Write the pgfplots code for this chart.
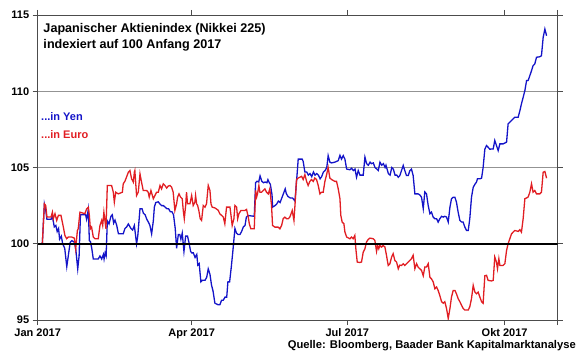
\documentclass[border=0pt]{standalone}
\usepackage{fontspec}
\setmainfont{Liberation Sans}
\usepackage{pgfplots}
\pgfplotsset{compat=1.18}
\definecolor{yenblue}{RGB}{20,20,200}
\definecolor{eurred}{RGB}{225,30,35}
\begin{document}
\begin{tikzpicture}
\useasboundingbox (-37.7pt,-38pt) rectangle (542.3pt,320pt);
\begin{axis}[at={(0pt,0pt)},anchor=south west, scale only axis, width=520pt, height=305pt,
 xmin=0,xmax=304,ymin=95,ymax=115,
 xtick={0,90,181,273,304}, xticklabels={Jan 2017,Apr 2017,Jul 2017,Okt 2017,{}},
 ytick={95,100,105,110,115},
 tick align=outside, major tick length=5pt,
 ymajorgrids, grid style={gray!85, line width=0.8pt},
 axis line style={gray!60!black, line width=0.8pt},
 tick style={gray!60!black, line width=0.8pt},
 ticklabel style={font=\fontsize{11}{13}\selectfont\bfseries},
 /pgf/number format/assume math mode=true,
 ]
\addplot[yenblue, line width=1.3pt] coordinates {(1,100) (2.7,100) (3.9,102.6) (4.7,102.2) (5.4,101.6) (7.8,101.6) (8.6,101.8) (9.7,101.1) (10.6,101.2) (11.4,100.8) (12.2,101.0) (12.8,100.3) (13.8,100.5) (14.6,100.0) (15.8,99.7) (17,98.5) (18,99.3) (19,100.1) (20,100.2) (21.5,100.1) (22.3,99.6) (23.4,98.35) (24.2,99.2) (25,101.9) (28,101.9) (28.6,101.6) (29.6,102.25) (30.2,100.2) (30.8,100.15) (31.6,99.7) (32.5,99.0) (35.4,99.0) (36.4,99.2) (37.4,99.0) (38.4,99.3) (38.8,99.0) (39.4,99.4) (40,99.2) (40.7,101.5) (41.7,101.3) (42.8,101.8) (43.6,101.9) (44.4,101.35) (45.2,101.55) (46.2,101.2) (47.2,100.65) (50,100.65) (51,101.0) (52,101.1) (53,101.3) (54.5,101.0) (55.5,100.9) (56.5,101.2) (57.8,100.0) (58.5,100.5) (59.8,102.3) (61,102.3) (61.8,102.0) (62.8,101.9) (63.8,101.6) (64.8,101.4) (65.6,101.2) (66.6,100.65) (67.6,101.5) (68.2,102.4) (69,102.7) (70.5,102.75) (71.5,102.6) (72.5,102.5) (73.5,102.5) (74.5,102.4) (75.5,102.3) (76.5,102.3) (77.5,102.1) (78.5,102.1) (79.4,101.9) (80.4,101.0) (81.2,99.7) (82.2,100.6) (83.1,100.6) (83.7,100.3) (84.5,100.7) (85.5,99.5) (86.5,100.5) (87.6,100.5) (88.4,100.1) (89.4,99.5) (90,99.4) (91,99.4) (92,99.1) (93,99.3) (93.6,98.6) (94.4,98.7) (95.4,97.5) (96.2,97.6) (97.8,97.6) (98.8,97.8) (99.7,98.35) (100.7,98.0) (101.6,97.3) (102.5,96.9) (103.6,96.1) (105.5,96.0) (106.5,96.0) (107.5,96.3) (108.5,96.3) (109.5,96.5) (110.5,96.5) (111.2,97.5) (112.2,97.5) (113.2,98.5) (114,99.4) (115.3,101.0) (116.2,100.7) (117.2,100.6) (118.2,100.6) (119.2,100.8) (120.2,101.1) (121.2,101.2) (122,101.75) (123,101.85) (126.6,101.8) (127.4,104.0) (128.2,104.1) (129.2,104.05) (130,104.45) (131,104.1) (132,104.0) (133,104.05) (134,104.0) (134.6,104.2) (135.4,104.0) (136,103.9) (137,103.2) (137.3,102.4) (138.7,102.5) (139.7,102.6) (140.7,102.8) (141.7,102.7) (142.7,103.0) (143.7,103.3) (144.7,103.6) (145.3,103.3) (146.3,103.1) (147.7,103.0) (149,103.0) (150.4,102.8) (151.4,104.2) (152.3,105.55) (154.6,105.55) (155.2,105.4) (156.2,104.7) (157.3,104.7) (158.2,104.5) (159.2,104.6) (160.2,104.4) (161.2,104.7) (162.1,104.5) (163.1,104.6) (164.1,104.5) (165.1,104.26) (166,104.4) (167,104.7) (168,104.8) (169,105.0) (169.8,105.78) (170.8,105.35) (171.8,105.3) (173.7,105.35) (175.7,105.45) (176.7,105.8) (177.6,105.55) (178.6,105.78) (179.6,105.55) (180.6,104.9) (182.5,104.85) (183.5,104.95) (184.5,104.8) (185.5,104.9) (186.4,104.36) (187.4,104.8) (188.4,104.5) (190.3,104.5) (191.3,105.68) (192.3,105.25) (193.3,105.15) (194.3,105.35) (195.2,105.25) (196.2,105.3) (197.2,105.0) (198.2,104.9) (199.1,104.8) (200.1,105.35) (201.1,105.15) (202.1,105.25) (203.1,105.0) (203.6,105.15) (205,104.6) (206,104.5) (207,105.0) (207.9,104.9) (208.9,104.5) (209.9,104.5) (210.8,104.36) (211.7,104.47) (212.7,104.8) (213.7,105.13) (214.6,104.8) (215.6,104.47) (216.6,104.47) (217.6,104.8) (218.5,104.9) (219.5,104.47) (220.5,103.27) (222.4,103.27) (223.4,103.2) (224.4,103.05) (225.4,102.3) (226.3,103.4) (227.3,103.27) (228.3,102.5) (229.3,101.97) (230.2,102.07) (231.2,101.75) (232.2,101.64) (233.2,101.64) (234.1,101.42) (235.1,101.64) (236.1,101.8) (237.1,101.75) (238,101.8) (239,101.75) (240,101.42) (241,102.4) (241.9,102.95) (242.9,103.05) (243.9,103.05) (244.8,102.73) (245.8,102.07) (246.8,101.53) (247.8,101.42) (248.7,101.42) (249.7,101.1) (250.7,100.87) (251.7,100.87) (252.6,101.64) (253.6,103.05) (254.6,103.7) (255.6,103.9) (256.5,104.04) (257.1,104.26) (258.5,104.26) (259.5,104.3) (260.4,105.0) (261.4,106.2) (262.4,106.44) (263.3,106.33) (264.3,106.2) (266.3,106.22) (267.2,106.77) (268.2,106.44) (269.2,106.11) (270.2,106.55) (272.1,106.55) (274.1,106.66) (275,107.86) (276,107.97) (278,108.19) (278.9,108.3) (280.9,108.3) (281.9,108.73) (282.8,109.17) (283.8,109.6) (284.8,110.04) (285.8,110.7) (286.7,110.7) (287.7,111.02) (288.7,111.35) (289.6,111.68) (290.6,111.79) (291.6,112.23) (293.5,112.26) (294.5,112.33) (295.5,113.53) (296.5,114.08) (297.5,113.64)};
\addplot[eurred, line width=1.3pt] coordinates {(1,100) (2.7,100) (3.9,102.62) (4.7,102.51) (5.4,101.75) (7.8,101.75) (8.6,102.07) (9.1,101.64) (10.1,101.97) (11.1,101.53) (12.1,101.86) (13.6,101.86) (15,101.09) (15.9,100.55) (16.9,100.33) (17.9,100.44) (19.9,100.44) (21.4,100.37) (22.2,99.67) (23.2,100.87) (23.7,100.98) (24.7,102.07) (27.6,101.97) (28.6,102.29) (29.6,102.4) (30.2,101.86) (30.8,100.98) (31.5,101.09) (32.5,100.44) (33.5,100.33) (35.4,100.33) (36.4,101.2) (37.4,101.53) (38,101.2) (38.7,102.07) (39.3,101.53) (39.9,100.98) (40.7,103.82) (43.2,103.82) (44.2,103.38) (44.8,102.73) (45.6,103.38) (47.1,103.27) (49.5,103.38) (50,103.93) (51,104.1) (53,104.69) (53.9,104.8) (54.9,104.26) (55.9,104.04) (56.5,104.69) (56.8,104.8) (57.8,103.16) (58.8,103.38) (59.8,104.58) (60.7,104.04) (61.7,103.49) (63.7,103.49) (64.6,103.38) (65.2,103.06) (66.2,103.49) (67.6,102.95) (68.5,103.16) (69.5,103.38) (70.5,103.38) (71.5,103.82) (72.4,103.6) (73.4,103.93) (74.4,103.82) (75.4,103.65) (76.3,103.78) (77.3,103.82) (78.3,103.71) (79.2,103.38) (80.2,102.18) (81.2,102.62) (81.8,103.06) (82.6,103.27) (83.5,103.06) (84.5,102.95) (85.1,102.18) (85.7,101.64) (86.5,102.51) (87,103.38) (87.6,102.62) (89,102.62) (90,103.16) (90.9,102.51) (91.9,102.73) (92.3,103.16) (92.9,102.62) (93.5,102.51) (94.2,102.18) (95,101.64) (95.8,101.53) (96.8,102.51) (97.8,102.4) (98.7,102.62) (99.7,103.82) (100.7,103.49) (101.3,102.62) (102,102.4) (103.6,102.35) (105.5,102.2) (106.5,101.96) (107.5,101.86) (108.5,101.75) (109.4,101.31) (110.4,102.4) (112.4,102.4) (112.9,101.96) (113.7,101.2) (114.7,101.64) (115.3,102.51) (116.3,102.4) (116.9,101.64) (117.6,101.96) (118.8,102.18) (121.1,102.18) (122.1,102.25) (123.1,101.75) (123.7,101.31) (124.6,100.98) (126.6,100.98) (127.4,103.49) (128,103.06) (128.5,103.27) (129.3,103.82) (129.9,103.38) (130.9,103.38) (131.8,103.49) (132.8,103.6) (133.8,103.38) (134.8,103.27) (135.7,103.6) (136.7,102.51) (137.3,101.2) (138.7,101.09) (140.6,101.09) (141.6,100.98) (142.6,101.2) (143.5,101.64) (144.5,101.75) (145.5,101.64) (146.5,101.64) (147.4,101.75) (148.8,102.18) (149.8,101.53) (150.4,102.51) (151.3,104.21) (152.3,104.31) (154.3,104.42) (155.2,104.21) (156.2,104.53) (157.2,104.09) (158.1,103.82) (159.1,104.09) (160.1,104.21) (161.1,104.09) (162,104.31) (163,104.21) (164,103.82) (165,103.27) (165.9,103.38) (166.9,103.38) (167.9,104.09) (168.9,104.53) (169.8,105.0) (170.8,104.31) (171.8,104.21) (173.7,104.09) (174.7,104.09) (175.7,103.6) (176.7,102.95) (177.2,101.86) (178,101.42) (179,101.31) (179.6,100.77) (180.6,100.44) (182.5,100.33) (183.5,100.44) (184.4,100.33) (185.4,100.55) (186,99.67) (186.8,98.8) (188.3,98.77) (189.3,98.8) (190.3,99.45) (191.3,99.67) (192.2,100.11) (193.2,100.28) (194.2,100.37) (196.1,100.33) (197.1,100.22) (198.1,99.5) (198.7,99.89) (199.4,99.67) (200,99.89) (201,99.78) (202,99.89) (203,99.78) (203.9,99.24) (204.9,98.58) (205.9,98.69) (206.9,99.13) (207.8,99.35) (208.8,98.9) (209.8,98.8) (210.8,98.36) (211.7,98.6) (212.7,98.58) (213.7,98.69) (214.6,98.58) (215.6,98.69) (216.6,98.8) (217.6,98.91) (218.5,99.02) (219.5,99.24) (220.5,98.36) (221.5,98.69) (222.4,98.47) (223.4,98.36) (224.4,98.25) (225.4,97.9) (226.3,98.47) (227.3,98.47) (228.3,98.69) (229.3,97.8) (230.2,97.7) (231.2,97.5) (232.2,97.05) (233.2,97.16) (234.1,96.94) (235.1,96.6) (236.1,96.2) (237.1,96.1) (238,96.2) (239,95.76) (240,95.1) (241,95.76) (241.9,96.5) (242.9,96.94) (243.9,96.94) (244.8,96.72) (245.8,96.4) (246.8,96.2) (247.8,95.96) (248.7,95.76) (249.7,95.65) (251.7,95.65) (252.6,95.87) (253.6,96.4) (254.6,97.27) (255.6,96.83) (256.5,96.72) (257.5,96.83) (258.5,96.5) (259.5,96.2) (260.4,96.1) (261.4,97.9) (262.4,97.93) (263.3,97.6) (265.3,97.56) (266.3,97.6) (267.2,99.13) (268.2,98.8) (268.8,98.36) (269.6,99.02) (270.2,98.58) (272.1,98.58) (273.1,98.69) (274.1,99.56) (275,100.0) (277,100.65) (278.9,100.87) (280.9,100.81) (281.9,100.92) (282.8,100.76) (283.8,101.64) (284.8,102.95) (286.7,103.06) (287.7,103.38) (288.7,103.93) (289.6,103.38) (290.6,103.49) (291.6,103.27) (293.5,103.27) (294.5,103.38) (295.5,104.69) (296.5,104.74) (297.5,104.3)};
\addplot[black, line width=1.8pt] coordinates {(0,100) (304,100)};
\end{axis}
\node[anchor=base west, font=\fontsize{12.6}{14}\selectfont\bfseries, inner sep=0pt] at (5.6pt,287.7pt) {Japanischer Aktienindex (Nikkei 225)};
\node[anchor=base west, font=\fontsize{12.6}{14}\selectfont\bfseries, inner sep=0pt] at (5.6pt,271.7pt) {indexiert auf 100 Anfang 2017};
\node[anchor=base west, font=\fontsize{11}{12}\selectfont\bfseries, text=yenblue, inner sep=0pt] at (3.3pt,199.3pt) {...in Yen};
\node[anchor=base west, font=\fontsize{11}{12}\selectfont\bfseries, text=eurred, inner sep=0pt] at (3.3pt,181.7pt) {...in Euro};
\node[anchor=base east, font=\fontsize{11.2}{13}\selectfont\bfseries, inner sep=0pt] at (538.3pt,-29pt) {Quelle: Bloomberg, Baader Bank Kapitalmarktanalyse};
\end{tikzpicture}
\end{document}
